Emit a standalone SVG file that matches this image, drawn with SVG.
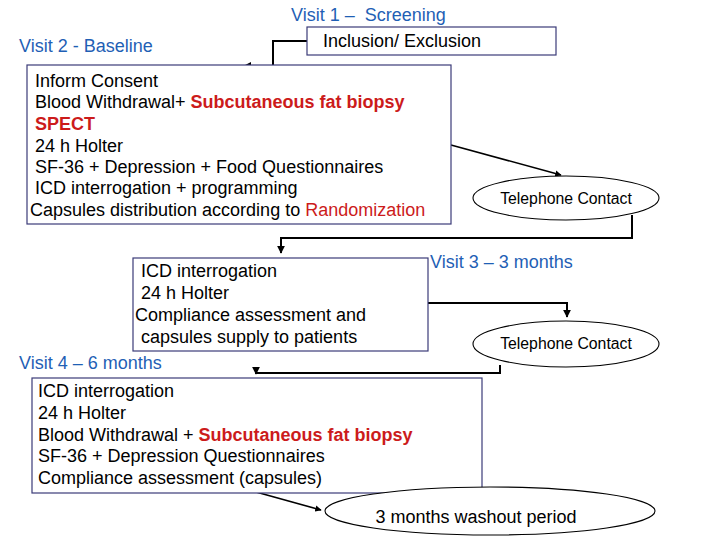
<svg xmlns="http://www.w3.org/2000/svg" width="720" height="540" viewBox="0 0 720 540">
<style>
text{font-family:"Liberation Sans",Arial,sans-serif;font-size:18px;fill:#000;white-space:pre}
.lbl{fill:#1f5fb5}
.red{fill:#cc1b1b}
.b{font-weight:bold}
.box{fill:#fff;stroke:#3b3b78;stroke-width:1.2}
.ell{fill:#fff;stroke:#000;stroke-width:1.1}
.con{fill:none;stroke:#000;stroke-width:2}
.tc{font-size:15.8px}
</style>
<defs>
<marker id="ah" viewBox="0 0 10 10" refX="9" refY="5" markerWidth="4" markerHeight="4" orient="auto" markerUnits="strokeWidth">
<path d="M0,0 L10,5 L0,10 z" fill="#000"/>
</marker>
</defs>
<rect width="720" height="540" fill="#fff"/>
<text class="lbl" x="291" y="21">Visit 1 –  Screening</text>
<text class="lbl" x="19" y="52">Visit 2 - Baseline</text>
<text class="lbl" x="430" y="268">Visit 3 – 3 months</text>
<text class="lbl" x="19" y="369">Visit 4 – 6 months</text>
<g id="connectors">
<path class="con" d="M307,41 H273 V66 H244" marker-end="url(#ah)"/>
<path class="con" d="M451,145 L561,175" style="stroke-width:1.6" marker-end="url(#ah)"/>
<path class="con" d="M632,215 V238 H281 V253" marker-end="url(#ah)"/>
<path class="con" d="M428,303 H567 V317" marker-end="url(#ah)"/>
<path class="con" d="M500,365 V373 H256 V374" marker-end="url(#ah)"/>
<path class="con" d="M256,492 L321,510" style="stroke-width:1.6" marker-end="url(#ah)"/>
</g>
<g id="inclusion">
<rect class="box" x="307" y="27" width="249" height="28"/>
<text x="323" y="47">Inclusion/ Exclusion</text>
</g>
<g id="baseline">
<rect class="box" x="27" y="65" width="424" height="159"/>
<text x="35" y="87">Inform Consent</text>
<text x="35" y="108">Blood Withdrawal+ <tspan class="red b">Subcutaneous fat biopsy</tspan></text>
<text x="35" y="130" class="red b">SPECT</text>
<text x="35" y="152">24 h Holter</text>
<text x="35" y="173">SF-36 + Depression + Food Questionnaires</text>
<text x="35" y="194">ICD interrogation + programming</text>
<text x="30" y="216">Capsules distribution according to <tspan class="red">Randomization</tspan></text>
</g>
<g id="tel1">
<ellipse class="ell" cx="566" cy="198" rx="93" ry="22"/>
<text class="tc" x="566" y="204" text-anchor="middle">Telephone Contact</text>
</g>
<g id="visit3">
<rect class="box" x="133" y="258" width="295" height="93"/>
<text x="141" y="277">ICD interrogation</text>
<text x="141" y="299">24 h Holter</text>
<text x="135" y="321">Compliance assessment and</text>
<text x="141" y="343">capsules supply to patients</text>
</g>
<g id="tel2">
<ellipse class="ell" cx="566" cy="344" rx="93" ry="23"/>
<text class="tc" x="566" y="349" text-anchor="middle">Telephone Contact</text>
</g>
<g id="visit4">
<rect class="box" x="32" y="378" width="450" height="115"/>
<text x="38" y="397">ICD interrogation</text>
<text x="38" y="419">24 h Holter</text>
<text x="38" y="441">Blood Withdrawal + <tspan class="red b">Subcutaneous fat biopsy</tspan></text>
<text x="38" y="462">SF-36 + Depression Questionnaires</text>
<text x="38" y="484">Compliance assessment (capsules)</text>
</g>
<g id="washout">
<ellipse class="ell" cx="490" cy="511" rx="165" ry="24"/>
<text x="476" y="523" text-anchor="middle">3 months washout period</text>
</g>
</svg>
